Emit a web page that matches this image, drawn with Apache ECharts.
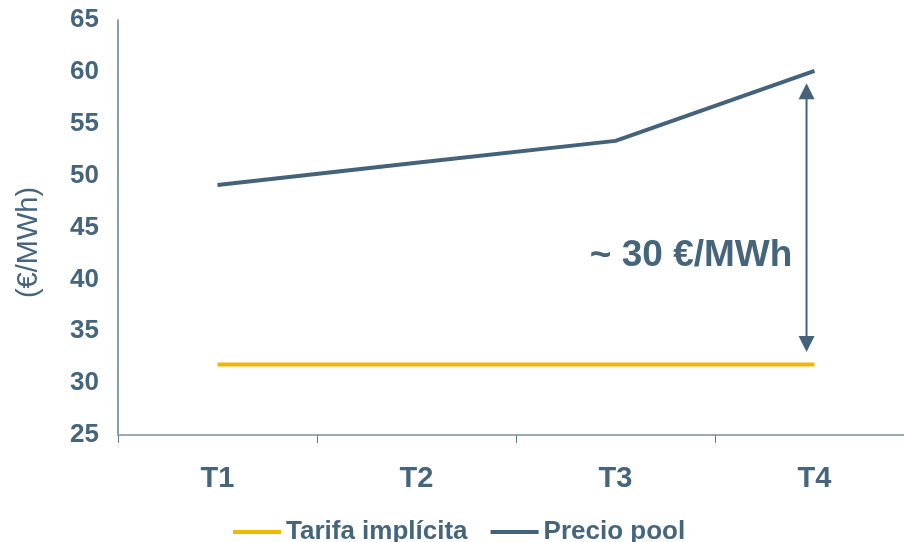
<!DOCTYPE html>
<html>
<head>
<meta charset="utf-8">
<script src="https://cdn.jsdelivr.net/npm/echarts@6/dist/echarts.min.js"></script>
<style>html,body{margin:0;padding:0;background:#fff;}#c{width:904px;height:542px;}</style>
</head>
<body>
<div id="c"></div>
<script>
var categories = ['T1', 'T2', 'T3', 'T4'];
var tarifaImplicita = [31.8, 31.8, 31.8, 31.8];
var precioPool = [49.1, 51.25, 53.35, 60.1];
var yTicks = [25, 30, 35, 40, 45, 50, 55, 60, 65];
// annotation: [x position (category index units), top value, bottom value]
var gapArrow = [[2.96, 58.9, 33.0]];
// annotation label: [x, y, text]
var gapLabel = [[2.38, 42.3, '~ 30 €/MWh']];

var FONT = 'Liberation Sans, Arial, sans-serif';
var TXT = '#45657D';
var BLUE = '#44627A';
var YELLOW = '#F0B800';

var chart = echarts.init(document.getElementById('c'), null, {renderer: 'canvas'});
chart.setOption({
  animation: false,
  backgroundColor: '#fff',
  grid: {left: 118, top: 20, width: 796, height: 415, containLabel: false, outerBoundsMode: 'none'},
  legend: {
    left: 228, top: 514,
    itemWidth: 48, itemHeight: 4, itemGap: 23,
    icon: 'rect',
    data: ['Tarifa implícita', 'Precio pool'],
    textStyle: {color: TXT, fontFamily: FONT, fontWeight: 'bold', fontSize: 26}
  },
  xAxis: [{
    type: 'category',
    data: categories,
    boundaryGap: true,
    axisLine: {lineStyle: {color: '#9AABB8', width: 2}},
    axisTick: {show: true, length: 8, lineStyle: {color: '#5F7C92', width: 1}},
    axisLabel: {color: TXT, fontFamily: FONT, fontWeight: 'bold', fontSize: 29, margin: 29}
  }, {
    type: 'value', min: -0.5, max: 3.5, show: false
  }],
  yAxis: {
    type: 'value',
    min: 25, max: 65, interval: 5,
    name: '(€/MWh)',
    nameLocation: 'middle',
    nameGap: 75,
    nameRotate: 90,
    nameTextStyle: {color: TXT, fontFamily: FONT, fontSize: 29, fontWeight: 'normal', padding: [0, 30, 0, 0]},
    axisLine: {show: true, onZero: false, lineStyle: {color: '#5F7C92', width: 1.5}},
    axisTick: {show: false},
    splitLine: {show: false},
    axisLabel: {
      color: TXT, fontFamily: FONT, fontWeight: 'bold', fontSize: 26, margin: 19,
      formatter: function (v) { return yTicks.indexOf(v) >= 0 ? String(v) : ''; }
    }
  },
  series: [{
    name: 'Tarifa implícita',
    type: 'line',
    data: tarifaImplicita,
    color: YELLOW,
    lineStyle: {color: YELLOW, width: 4},
    symbol: 'none',
    z: 3
  }, {
    name: 'Precio pool',
    type: 'line',
    data: precioPool,
    color: BLUE,
    lineStyle: {color: BLUE, width: 4},
    symbol: 'none',
    z: 3
  }, {
    name: 'arrow',
    type: 'custom',
    xAxisIndex: 1,
    data: gapArrow,
    silent: true,
    z: 4,
    renderItem: function (params, api) {
      var top = api.coord([api.value(0), api.value(1)]);
      var bot = api.coord([api.value(0), api.value(2)]);
      var x = top[0], hw = 8, hl = 16;
      return {type: 'group', children: [
        {type: 'line', shape: {x1: x, y1: top[1] + hl - 2, x2: x, y2: bot[1] - hl + 2}, style: {stroke: BLUE, lineWidth: 2}},
        {type: 'polygon', shape: {points: [[x, top[1]], [x - hw, top[1] + hl], [x + hw, top[1] + hl]]}, style: {fill: BLUE}},
        {type: 'polygon', shape: {points: [[x, bot[1]], [x - hw, bot[1] - hl], [x + hw, bot[1] - hl]]}, style: {fill: BLUE}}
      ]};
    }
  }, {
    name: 'label',
    type: 'custom',
    xAxisIndex: 1,
    data: gapLabel,
    silent: true,
    z: 4,
    renderItem: function (params, api) {
      var p = api.coord([api.value(0), api.value(1)]);
      return {
        type: 'text',
        x: p[0], y: p[1],
        style: {text: gapLabel[params.dataIndex][2], fill: TXT, font: 'bold 37px ' + FONT, align: 'center', verticalAlign: 'middle'}
      };
    }
  }]
});
</script>
</body>
</html>
